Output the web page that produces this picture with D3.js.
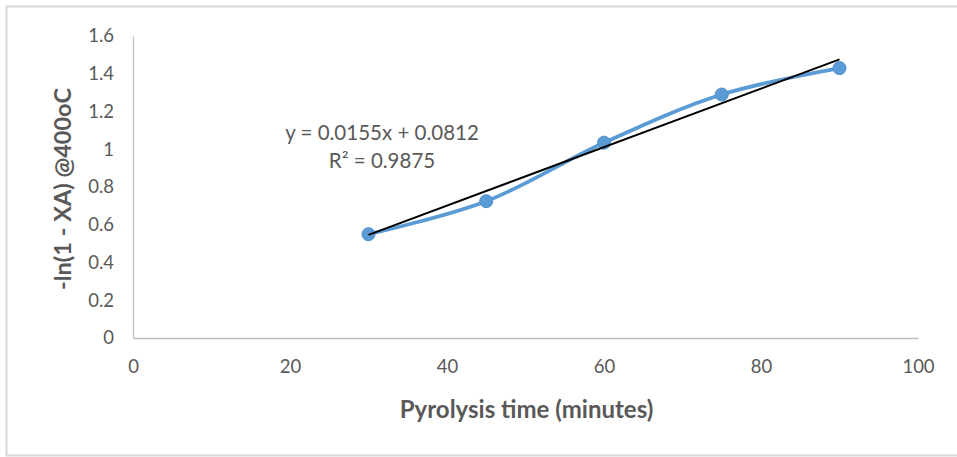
<!DOCTYPE html>
<html><head><meta charset="utf-8">
<script src="https://cdn.jsdelivr.net/npm/d3@7"></script>
<style>html,body{margin:0;padding:0;background:#fff;}svg{display:block;}</style>
</head><body>
<script>
const times = [30, 45, 60, 75, 90];
const values = [0.55, 0.725, 1.035, 1.29, 1.43];
const xTicks = [0, 20, 40, 60, 80, 100];
const yTicks = [0, 0.2, 0.4, 0.6, 0.8, 1, 1.2, 1.4, 1.6];
const slope = 0.0155, intercept = 0.0812;
const eqLines = ["y = 0.0155x + 0.0812", "R² = 0.9875"];
const xTitle = "Pyrolysis time (minutes)";
const yTitle = "-ln(1 - XA) @400oC";

const W = 957, H = 457;
const svg = d3.select("body").append("svg").attr("width", W).attr("height", H);
svg.append("rect").attr("x", 6.5).attr("y", 6.5).attr("width", W + 10).attr("height", 449)
  .attr("fill", "#fff").attr("stroke", "#d9d9d9").attr("stroke-width", 2);

const x = d3.scaleLinear().domain([0, 100]).range([133, 918]);
const y = d3.scaleLinear().domain([0, 1.6]).range([338, 36]);
const font = "Lato, 'Open Sans', sans-serif";
const grey = "#595959";

// axes
const xa = svg.append("g").attr("transform", `translate(0,${y(0)})`)
  .call(d3.axisBottom(x).tickValues(xTicks).tickSize(0).tickPadding(22).tickFormat(d3.format("d")));
const ya = svg.append("g").attr("transform", `translate(${x(0)},0)`)
  .call(d3.axisLeft(y).tickValues(yTicks).tickSize(0).tickPadding(19).tickFormat(d => d === 0 ? "0" : d === 1 ? "1" : d3.format(".1f")(d)));
[xa, ya].forEach(a => {
  a.select(".domain").attr("stroke", "#bfbfbf").attr("stroke-width", 1.3);
  a.selectAll("text").attr("fill", grey).style("font-family", font).style("font-size", "18.5px");
});

// titles
svg.append("text").attr("x", (x(0) + x(100)) / 2 + 1).attr("y", 418).attr("text-anchor", "middle")
  .attr("fill", grey).style("font-family", font).style("font-size", "24px").style("font-weight", "bold").text(xTitle);
svg.append("text").attr("transform", `translate(71,${(y(0) + y(1.6)) / 2 + 2}) rotate(-90)`).attr("text-anchor", "middle")
  .attr("fill", grey).style("font-family", font).style("font-size", "23.5px").style("font-weight", "bold").text(yTitle);

// data line
const pts = times.map((t, i) => [t, values[i]]);
svg.append("path").datum(pts)
  .attr("d", d3.line().x(d => x(d[0])).y(d => y(d[1])).curve(d3.curveCatmullRom.alpha(0.5)))
  .attr("fill", "none").attr("stroke", "#5b9bd5").attr("stroke-width", 3.8).attr("stroke-linecap", "round");

// markers
svg.selectAll("circle.m").data(pts).enter().append("circle").attr("class", "m")
  .attr("cx", d => x(d[0])).attr("cy", d => y(d[1])).attr("r", 6.5)
  .attr("fill", "#5b9bd5").attr("stroke", "#4f8fcb").attr("stroke-width", 1);

// trendline
const tx = [times[0], times[times.length - 1]];
svg.append("line")
  .attr("x1", x(tx[0])).attr("y1", y(slope * tx[0] + intercept))
  .attr("x2", x(tx[1])).attr("y2", y(slope * tx[1] + intercept))
  .attr("stroke", "#000").attr("stroke-width", 2);

// equation
const eq = svg.append("text").attr("text-anchor", "middle").attr("fill", grey)
  .style("font-family", font).style("font-size", "20.5px");
eqLines.forEach((l, i) => eq.append("tspan").attr("x", 382).attr("y", 140 + i * 28).text(l));
</script>
</body></html>
